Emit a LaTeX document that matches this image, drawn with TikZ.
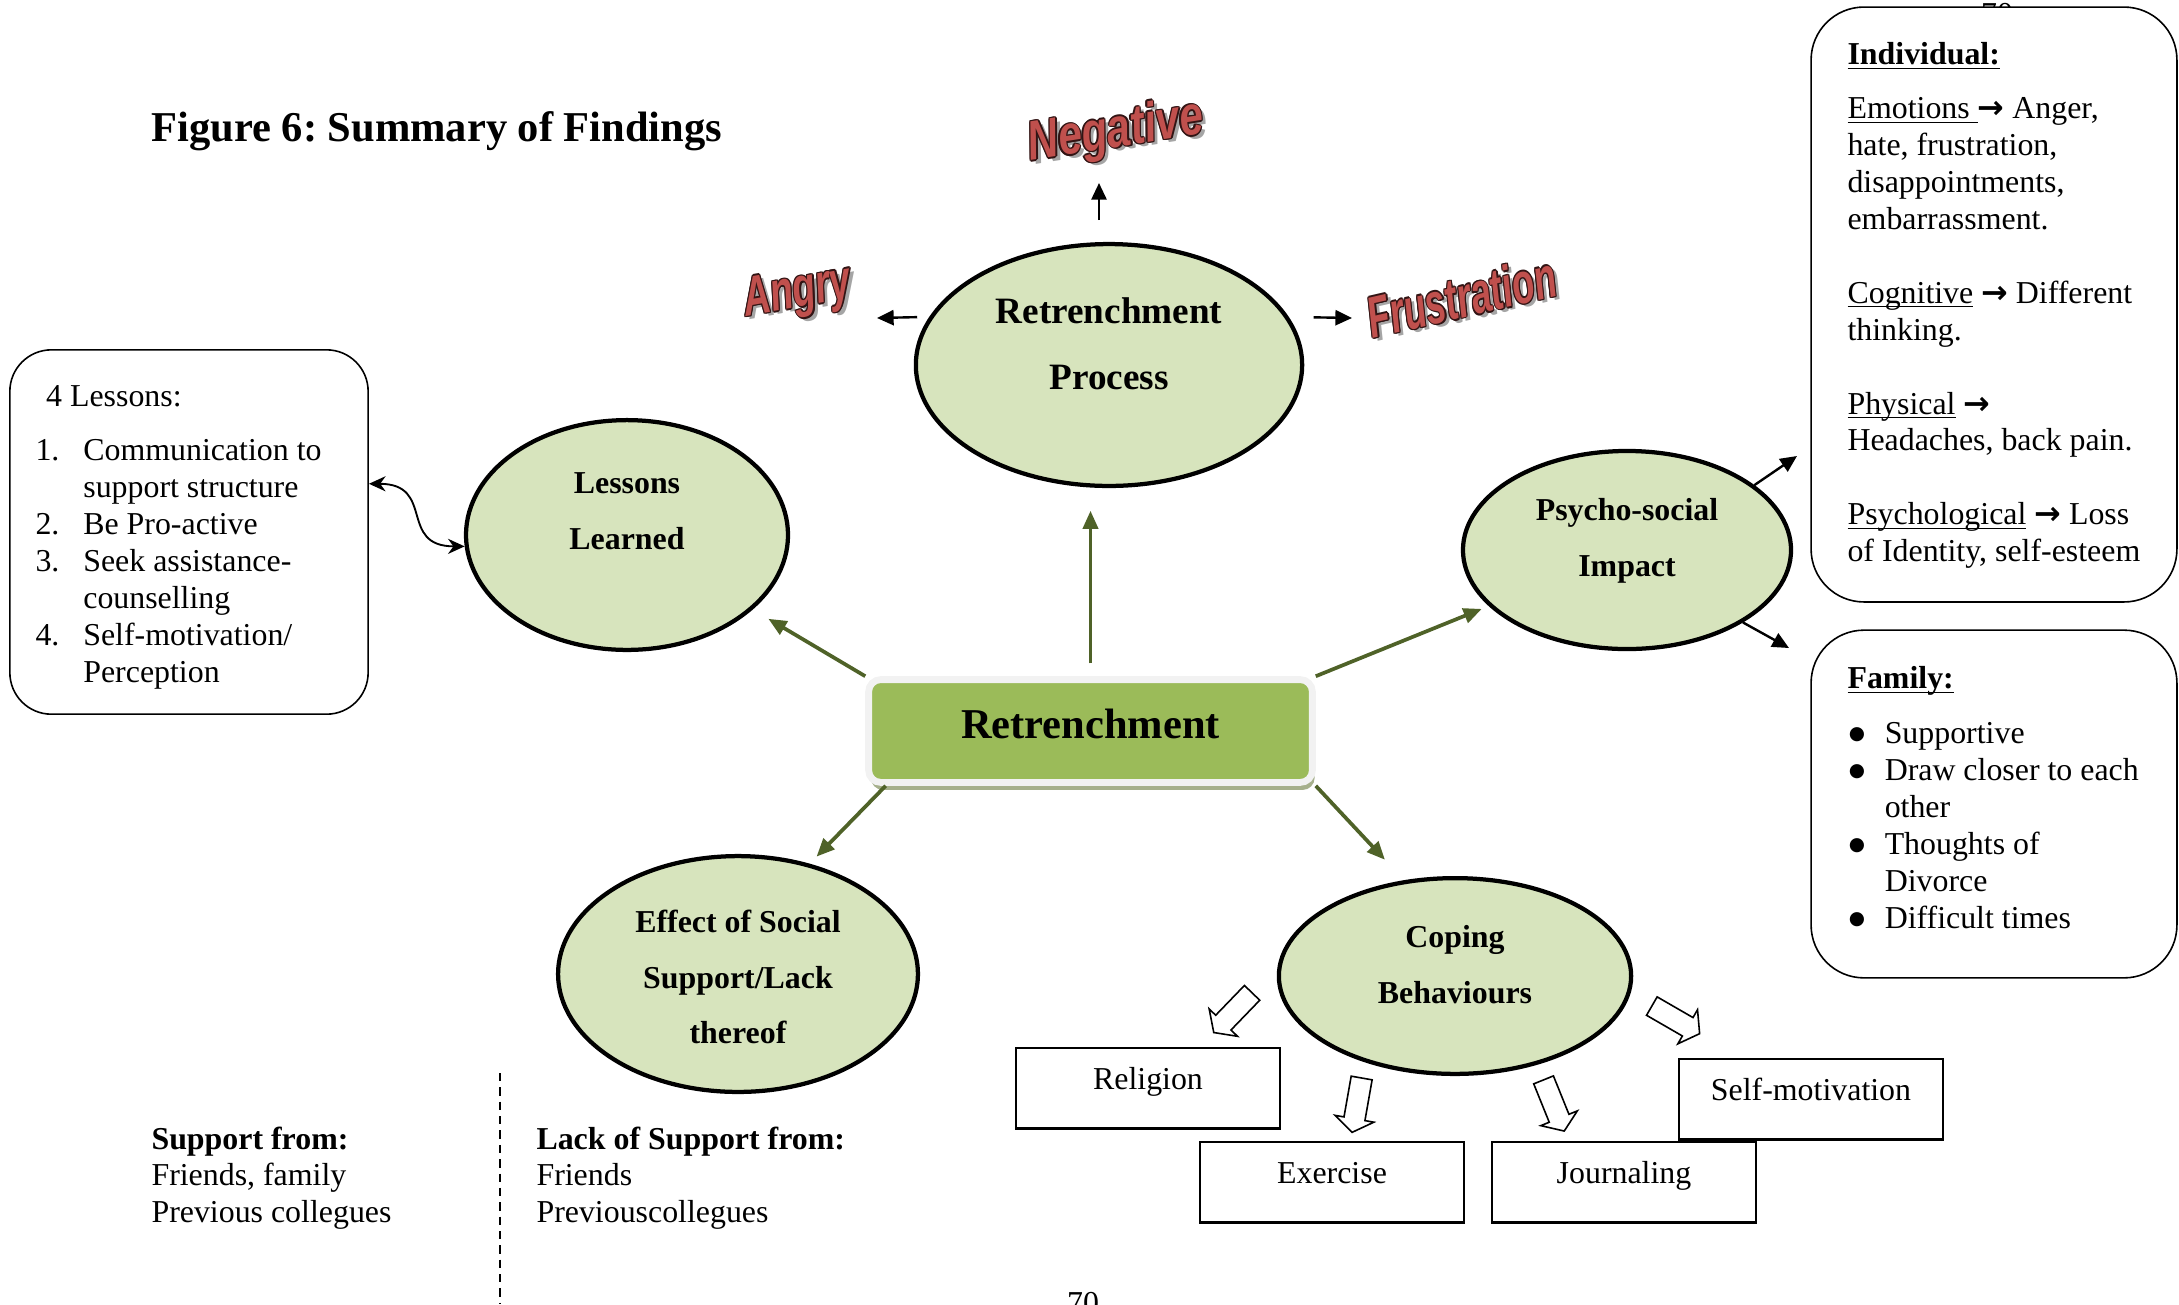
\documentclass[tikz,border=0pt]{standalone}
\usepackage{fontspec}
\setmainfont{Liberation Serif}
\newfontfamily\artfont[FakeStretch=0.8]{Liberation Sans}
\newfontfamily\symfont{DejaVu Sans}
\usepackage{tikz}
\usetikzlibrary{shapes.geometric, shapes.arrows, arrows.meta, shadows}
\definecolor{bubblegreen}{RGB}{215,228,189}
\definecolor{retrgreen}{RGB}{155,187,89}
\definecolor{retredge}{RGB}{242,242,242}
\definecolor{retrshade}{RGB}{166,176,140}
\definecolor{olivearrow}{RGB}{79,98,40}
\definecolor{artfill}{RGB}{192,80,77}
\definecolor{artline}{RGB}{50,20,20}
\definecolor{artshade}{RGB}{165,165,165}
\frenchspacing

\newcommand\artcopy[4]{\makebox[0pt][l]{\hspace*{#1}\raisebox{#2}{\color{#3}#4}}}
\newcommand\wordart[1]{%
  \artcopy{1.4pt}{-1.4pt}{artshade}{#1}%
  \artcopy{-0.5pt}{0pt}{artline}{#1}%
  \artcopy{0.5pt}{0pt}{artline}{#1}%
  \artcopy{0pt}{0.5pt}{artline}{#1}%
  \artcopy{0pt}{-0.5pt}{artline}{#1}%
  \artcopy{0.35pt}{0.35pt}{artline}{#1}%
  \artcopy{-0.35pt}{0.35pt}{artline}{#1}%
  \artcopy{0.35pt}{-0.35pt}{artline}{#1}%
  \artcopy{-0.35pt}{-0.35pt}{artline}{#1}%
  {\color{artfill}#1}}
\newcommand\lnum[1]{\makebox[18pt][l]{#1}}
\newcommand\lindent{\hspace*{18pt}}
\newcommand\fbul{\hspace*{0.5pt}\makebox[13.5pt][l]{\raisebox{1.6pt}{\symfont\fontsize{7}{7}\selectfont ●}}}
\newcommand\findent{\hspace*{14pt}}
\newcommand\tto{{\symfont\bfseries →}}
\newcommand\uword[1]{\underline{\raisebox{0pt}[\height][0pt]{#1}}}

\tikzset{
  bubble/.style={ellipse, draw=black, line width=1.6pt, fill=bubblegreen, inner sep=0pt},
  bubtext/.style={font=\bfseries\fontsize{12}{21}\selectfont, align=center, inner sep=0pt},
  retrbox/.style={rectangle, rounded corners=1.6mm, fill=retrgreen, draw=retredge,
    line width=0.9mm, minimum width=58.7mm, minimum height=13.6mm, text depth=2mm,
    font=\bfseries\fontsize{16}{19}\selectfont,
    drop shadow={shadow xshift=0.3mm, shadow yshift=-1mm, fill=retrshade, opacity=1}},
  notebox/.style={draw=black, line width=0.6pt, fill=white},
  actbox/.style={draw=black, line width=0.8pt, minimum width=34.9mm, minimum height=10.7mm,
    text height=5.6mm, text depth=5.1mm, inner ysep=0pt, font=\fontsize{12}{13.9}\selectfont},
  plaintext/.style={font=\fontsize{12}{13.9}\selectfont, align=left, inner sep=0pt, anchor=north west},
  grnarrow/.style={draw=olivearrow, line width=1.4pt, -{Triangle[length=2.4mm, width=2mm]}},
  blkarrow/.style={line width=0.9pt, -{Triangle[length=2.2mm, width=2mm]}},
  hollowarrow/.style={single arrow, draw=black, fill=white, line width=0.6pt,
    minimum height=7.3mm, inner sep=1.3mm, single arrow head extend=1.2mm,
    single arrow tip angle=110},
  art/.style={font=\artfont\bfseries\itshape\fontsize{19}{19}\selectfont, inner sep=0pt}
}

\begin{document}
\begin{tikzpicture}[x=0.1323mm, y=-0.1323mm]
  \useasboundingbox (0,0) rectangle (2179,1304);

  \node[anchor=west, inner sep=0pt, font=\bfseries\fontsize{16}{19}\selectfont] (title) at (151,131)
    {Figure 6: Summary of Findings};

  \node[font=\fontsize{12}{14}\selectfont, inner sep=0pt] (pgtop) at (1997,14) {70};
  \node[font=\fontsize{12}{14}\selectfont, inner sep=0pt] (pgbot) at (1083,1303) {70};

  \node[retrbox] (retr) at (1090.5,731) {Retrenchment};

  \node[bubble, minimum width=51.1mm, minimum height=32mm] (proc) at (1109,365) {};
  \node[bubtext, font=\bfseries\fontsize{14}{24.8}\selectfont] (proc-txt) at (1109,344) {Retrenchment\\Process};
  \node[bubble, minimum width=42.6mm, minimum height=30.4mm] (lessons) at (627,535) {};
  \node[bubtext] (lessons-txt) at (627,511) {Lessons\\Learned};
  \node[bubble, minimum width=43.4mm, minimum height=26.2mm] (psy) at (1627,550) {};
  \node[bubtext] (psy-txt) at (1627,541) {Psycho-social\\Impact};
  \node[bubble, minimum width=47.6mm, minimum height=31.2mm] (social) at (738,974) {};
  \node[bubtext] (social-txt) at (738,977) {Effect of Social\\Support/Lack\\thereof};
  \node[bubble, minimum width=46.6mm, minimum height=25.9mm] (coping) at (1455,976) {};
  \node[bubtext] (coping-txt) at (1455,965) {Coping\\Behaviours};

  \node[art, rotate=9] (neg) at (1116,134) {\scalebox{1.05}[1.1]{\wordart{Negative}}};
  \node[art, rotate=10] (angry) at (798,295) {\scalebox{0.93}[1.1]{\wordart{Angry}}};
  \node[art, rotate=13] (frus) at (1462,298) {\scalebox{0.9}[1.15]{\wordart{Frustration}}};

  \coordinate (neg-tip) at (1099,183);
  \coordinate (angry-tip) at (877,318);
  \coordinate (frus-tip) at (1352,318);
  \draw[blkarrow, shorten <=2.9mm] (proc.north -| neg-tip) -- (neg-tip);
  \draw[blkarrow, shorten <=1.6mm] (proc.165) -- (angry-tip);
  \draw[blkarrow, shorten <=3.3mm] (proc.15) -- (frus-tip);

  \draw[grnarrow, shorten >=2.4mm] (retr.north west) -- (lessons);
  \draw[grnarrow, shorten <=1.7mm, shorten >=3mm] (retr.north) -- (retr.north |- proc.south);
  \draw[grnarrow, shorten >=1mm] (retr.north east) -- (psy);
  \draw[grnarrow, shorten >=1.3mm] ([xshift=2.7mm]retr.south west) -- (social.57);
  \draw[grnarrow, shorten >=3.7mm] (retr.south east) -- (coping.118);

  \node[notebox, rounded corners=5.5mm, minimum width=47.4mm, minimum height=48.2mm] (lessons-box) at (189,532) {};
  \node[plaintext] (lessons-list) at (35,385) {%
    \hspace*{4pt}4 Lessons:\\[6.4pt]
    \lnum{1.}Communication to\\
    \lindent support structure\\
    \lnum{2.}Be Pro-active\\
    \lnum{3.}Seek assistance-\\
    \lindent counselling\\
    \lnum{4.}Self-motivation/\\
    \lindent Perception};
  \draw[{Stealth[length=2.2mm, width=2mm]}-{Stealth[length=2.2mm, width=2mm]}, line width=0.7pt]
    (lessons-box.15) to[out=0, in=180, looseness=1.5] (lessons.184);

  \node[notebox, rounded corners=7mm, minimum width=48.4mm, minimum height=78.7mm] (indiv-box) at (1994,304.5) {};
  \node[plaintext] (indiv-list) at (1847,42) {%
    \uword{\textbf{Individual:}}\\[6.4pt]
    \uword{Emotions\ }\tto{} Anger,\\
    hate, frustration,\\
    disappointments,\\
    embarrassment.\\[13.9pt]
    \uword{Cognitive} \tto{} Different\\
    thinking.\\[13.9pt]
    \uword{Physical} \tto\\
    Headaches, back pain.\\[13.9pt]
    \uword{Psychological} \tto{} Loss\\
    of Identity, self-esteem};
  \node[notebox, rounded corners=7mm, minimum width=48.4mm, minimum height=46mm] (family-box) at (1994,804) {};
  \node[plaintext] (family-list) at (1847,666) {%
    \uword{\textbf{Family:}}\\[6.8pt]
    \fbul Supportive\\
    \fbul Draw closer to each\\
    \findent other\\
    \fbul Thoughts of\\
    \findent Divorce\\
    \fbul Difficult times};

  \coordinate (ind-tip) at (1797,456);
  \coordinate (fam-tip) at (1789,648);
  \draw[blkarrow] (psy.27) -- (ind-tip);
  \draw[blkarrow] (psy.-32) -- (fam-tip);

  \node[hollowarrow, rotate=-134] (to-religion) at (1235.5,1010) {};
  \node[hollowarrow, rotate=-100] (to-exercise) at (1357.5,1101.5) {};
  \node[hollowarrow, rotate=-68] (to-journal) at (1552.5,1102) {};
  \node[hollowarrow, rotate=-30] (to-selfmot) at (1672.5,1018) {};

  \node[actbox] (religion) at (1148,1088) {Religion};
  \node[actbox] (exercise) at (1332,1182) {Exercise};
  \node[actbox] (journal) at (1624,1182) {Journaling};
  \node[actbox] (selfmot) at (1811,1099) {Self-motivation};

  \node[plaintext] (support) at (151,1126) {\textbf{Support from:}\\Friends, family\\Previous collegues};
  \node[plaintext] (nosupport) at (536,1126) {\textbf{Lack of Support from:}\\Friends\\Previouscollegues};
  \draw[line width=0.5pt, dash pattern=on 1.1mm off 0.8mm] (500,1073) -- (500,1304);
\end{tikzpicture}
\end{document}
